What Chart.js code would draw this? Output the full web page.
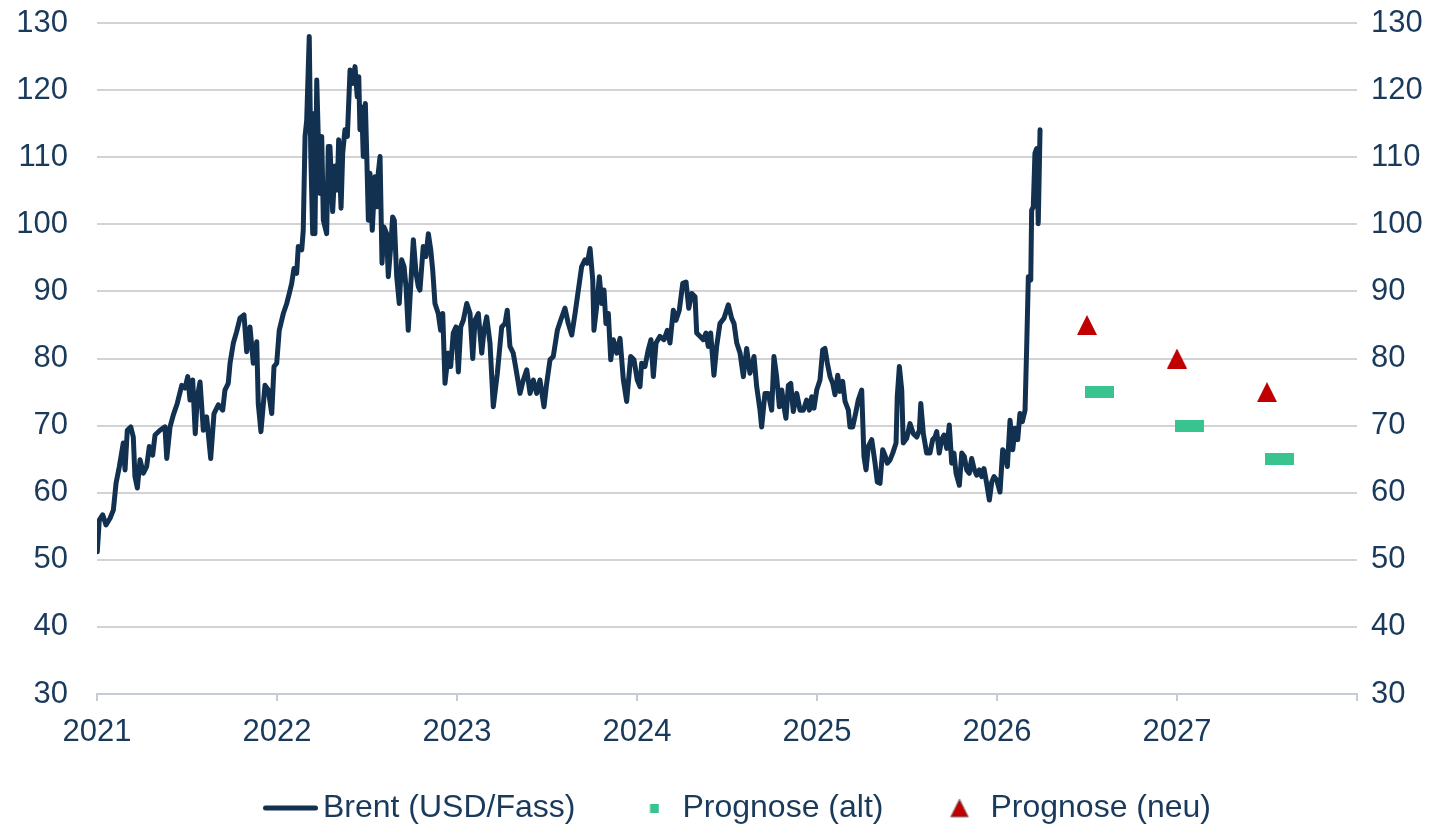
<!DOCTYPE html>
<html>
<head>
<meta charset="utf-8">
<title>Brent</title>
<script src="https://cdn.jsdelivr.net/npm/chart.js@4.4.1/dist/chart.umd.min.js"></script>
<style>
    html, body { margin: 0; padding: 0; background: #ffffff; }
    #chart-div { width: 1442px; height: 827px; }
</style>
</head>
<body>
<div id="chart-div"><canvas id="brent-chart" width="1442" height="827"></canvas></div>
<script>
// **********************************************
// Data (x = months since Jan 2021)

const brentMonths = [
    0.02, 0.15, 0.38, 0.6, 0.87, 1.09, 1.27, 1.49, 1.75, 1.87, 2.02, 2.25, 2.42, 2.53, 2.69, 2.87,
    3.09, 3.31, 3.49, 3.71, 3.87, 4.2, 4.53, 4.65, 4.87, 5.09, 5.35, 5.65, 5.87, 6.05, 6.2, 6.38,
    6.55, 6.69, 6.87, 7.09, 7.31, 7.58, 7.8, 8.09, 8.38, 8.53, 8.75, 8.87, 9.09, 9.31, 9.53, 9.8,
    9.98, 10.2, 10.42, 10.65, 10.75, 10.93, 11.2, 11.42, 11.65, 11.8, 11.98, 12.15, 12.42, 12.65,
    12.82, 12.98, 13.13, 13.31, 13.42, 13.65, 13.75, 13.87, 13.98, 14.15, 14.25, 14.38, 14.47, 14.53,
    14.65, 14.75, 14.87, 14.98, 15.09, 15.31, 15.42, 15.53, 15.71, 15.87, 16.02, 16.11, 16.27, 16.38,
    16.53, 16.69, 16.87, 17.05, 17.2, 17.35, 17.45, 17.53, 17.65, 17.75, 17.89, 17.98, 18.09, 18.2,
    18.35, 18.53, 18.65, 18.75, 18.87, 19.0, 19.13, 19.31, 19.42, 19.58, 19.71, 19.82, 19.98, 20.15,
    20.31, 20.47, 20.6, 20.75, 20.91, 21.09, 21.27, 21.42, 21.53, 21.75, 21.93, 22.09, 22.25, 22.38,
    22.53, 22.75, 22.91, 23.05, 23.2, 23.42, 23.58, 23.75, 23.93, 24.09, 24.25, 24.42, 24.65, 24.87,
    25.05, 25.2, 25.42, 25.65, 25.8, 25.98, 26.2, 26.42, 26.69, 26.98, 27.2, 27.35, 27.53, 27.75,
    27.98, 28.2, 28.42, 28.65, 28.87, 29.09, 29.31, 29.53, 29.8, 29.98, 30.2, 30.42, 30.69, 30.91,
    31.2, 31.42, 31.65, 31.87, 32.09, 32.31, 32.53, 32.69, 32.87, 33.05, 33.13, 33.31, 33.49, 33.65,
    33.8, 33.93, 34.09, 34.25, 34.42, 34.65, 34.87, 35.09, 35.31, 35.58, 35.8, 36.02, 36.2, 36.31,
    36.53, 36.75, 36.93, 37.09, 37.27, 37.53, 37.8, 38.02, 38.2, 38.42, 38.6, 38.82, 39.05, 39.27,
    39.45, 39.65, 39.87, 39.98, 40.2, 40.42, 40.6, 40.75, 40.91, 41.13, 41.31, 41.53, 41.8, 42.09,
    42.31, 42.47, 42.65, 42.87, 43.09, 43.31, 43.53, 43.8, 43.98, 44.2, 44.31, 44.53, 44.75, 44.98,
    45.13, 45.31, 45.49, 45.65, 45.8, 45.93, 46.09, 46.25, 46.42, 46.65, 46.87, 47.09, 47.31, 47.49,
    47.65, 47.8, 47.98, 48.2, 48.38, 48.53, 48.69, 48.87, 49.05, 49.2, 49.38, 49.53, 49.71, 49.87,
    50.09, 50.2, 50.38, 50.6, 50.75, 50.98, 51.13, 51.27, 51.42, 51.65, 51.87, 52.02, 52.2, 52.38,
    52.53, 52.69, 52.87, 53.05, 53.27, 53.35, 53.49, 53.65, 53.75, 53.98, 54.2, 54.42, 54.65, 54.82,
    54.92, 55.09, 55.31, 55.53, 55.71, 55.87, 55.98, 56.15, 56.31, 56.47, 56.65, 56.82, 56.98, 57.13,
    57.27, 57.49, 57.65, 57.82, 57.98, 58.15, 58.31, 58.49, 58.65, 58.82, 58.98, 59.13, 59.31, 59.49,
    59.65, 59.8, 59.98, 60.2, 60.38, 60.53, 60.69, 60.87, 61.05, 61.2, 61.38, 61.53, 61.69, 61.87,
    61.98, 62.09, 62.25, 62.31, 62.42, 62.53, 62.65, 62.75, 62.87
];

const brentValues = [
    51.2, 55.9, 56.7, 55.2, 56.2, 57.4, 61.4, 63.9, 67.4, 63.4, 69.3, 69.8, 68.3, 62.4, 60.7, 64.9,
    62.9, 63.9, 66.9, 65.6, 68.6, 69.3, 69.8, 65.1, 69.8, 71.6, 73.3, 76.0, 75.6, 77.3, 73.8, 76.8,
    68.8, 74.3, 76.5, 69.3, 71.3, 65.1, 71.8, 73.1, 72.3, 75.3, 76.3, 79.3, 82.3, 84.0, 86.0, 86.5,
    81.0, 84.7, 79.3, 82.5, 73.3, 69.1, 76.0, 75.3, 71.8, 78.8, 79.3, 84.2, 86.7, 88.2,
    89.7, 91.2, 93.4, 92.7, 96.7, 96.2, 99.1, 113.1, 115.5, 128.0, 110.6, 98.6, 116.5, 98.6,
    121.5, 113.1, 104.6, 113.1, 100.6, 98.6, 111.6, 111.6, 101.9, 108.7, 105.1, 112.6, 102.4, 110.6,
    114.1, 113.1, 123.0, 121.0, 123.5, 119.0, 122.0, 114.1, 117.5, 110.1, 118.0, 110.6, 100.6, 107.6,
    99.1, 107.1, 102.6, 107.6, 110.1, 94.2, 99.6, 98.6, 92.2, 96.7, 101.1, 100.6, 92.2, 88.2,
    94.7, 93.7, 90.7, 84.2, 90.7, 97.7, 92.7, 90.7, 90.2, 96.7, 95.2, 98.6, 96.2, 93.2,
    88.2, 86.7, 84.2, 86.7, 76.3, 80.8, 78.8, 83.8, 84.7, 78.0, 84.7, 85.7, 88.2, 86.7,
    80.0, 85.7, 86.7, 80.8, 84.2, 86.2, 82.3, 72.8, 77.8, 84.7, 85.2, 87.2, 81.8, 80.8,
    77.8, 74.8, 76.8, 78.3, 74.8, 76.8, 74.8, 76.8, 72.8, 76.3, 79.8, 80.3, 84.2, 85.7,
    87.5, 85.2, 83.5, 86.7, 90.2, 93.7, 94.7, 94.2, 96.4, 91.7, 84.2, 87.7, 92.2, 88.2,
    90.2, 85.2, 86.7, 79.8, 82.8, 80.8, 83.0, 76.8, 73.6, 80.3, 79.8, 76.8, 75.8, 79.3,
    78.8, 81.3, 82.8, 77.3, 82.3, 83.3, 82.8, 84.2, 82.3, 87.2, 85.7, 87.2, 91.2, 91.4,
    87.5, 89.7, 89.2, 83.8, 83.3, 82.8, 83.8, 81.8, 83.8, 77.5, 81.8, 85.2, 86.0, 88.0,
    86.0, 85.2, 82.3, 80.8, 77.3, 81.5, 77.8, 80.3, 75.8, 72.3, 69.8, 74.8, 74.8, 72.3,
    80.3, 77.3, 72.8, 75.3, 72.8, 71.1, 76.0, 76.3, 72.1, 74.8, 72.3, 72.3, 73.8, 72.3,
    74.3, 72.6, 75.3, 76.8, 81.3, 81.5, 79.3, 77.3, 76.3, 74.6, 77.5, 75.1, 76.6, 73.6,
    72.3, 69.8, 69.8, 72.1, 73.8, 75.3, 65.4, 63.4, 66.9, 67.9, 64.4, 61.6, 61.4, 66.4,
    65.6, 64.4, 64.9, 65.9, 67.4, 74.3, 78.8, 75.3, 67.4, 68.1, 70.3, 68.8, 68.3, 69.3,
    73.3, 68.8, 65.9, 65.9, 67.9, 68.3, 69.1, 65.9, 67.9, 68.6, 66.6, 70.1, 64.4, 65.9,
    62.9, 61.1, 65.9, 65.4, 63.4, 62.9, 65.1, 63.4, 62.6, 63.4, 62.4, 63.6, 61.4, 58.9,
    61.6, 62.4, 61.9, 60.1, 66.4, 65.9, 63.9, 70.8, 66.4, 69.6, 67.9, 71.8, 70.6, 72.3,
    81.8, 92.2, 91.7, 102.1, 102.6, 110.6, 111.3, 100.1, 114.1
];

// forecasts
const forecastOldMonths = [66.85, 72.85, 78.85];
const forecastOldValues = [75, 70, 65];
const forecastNewMonths = [66, 72, 78];
const forecastNewValues = [85, 80, 75];

// labels
const yearLabels = ['2021', '2022', '2023', '2024', '2025', '2026', '2027', ''];
const seriesLabels = ['Brent (USD/Fass)', 'Prognose (alt)', 'Prognose (neu)'];


// **********************************************
// Colours and fonts

const navy = '#12304f';
const textColor = '#1a3a5c';
const green = '#38c38f';
const red = '#c00000';
const gridGrey = '#d3d3d3';
const axisGrey = '#c6ccd4';
const fontFamily = "'Liberation Sans', Arial, sans-serif";


// **********************************************
// Marker images (plot + legend)

function makeMarker(w, h, draw) {
    let c = document.createElement('canvas');
    c.width = w;
    c.height = h;
    draw(c.getContext('2d'));
    return c;
}

// plot markers
let oldBar = makeMarker(29, 12, function(ctx) {
    ctx.fillStyle = green;
    ctx.fillRect(0, 0, 29, 12);
});
let newTriangle = makeMarker(20, 20, function(ctx) {
    ctx.fillStyle = red;
    ctx.beginPath();
    ctx.moveTo(10, 0);
    ctx.lineTo(20, 20);
    ctx.lineTo(0, 20);
    ctx.closePath();
    ctx.fill();
});

// legend markers: legend boxes are 76px wide, images are centred on the box,
// so each marker is drawn off-centre inside its image to sit next to its text
let legendLine = makeMarker(98, 8, function(ctx) {
    ctx.strokeStyle = navy;
    ctx.lineWidth = 5;
    ctx.lineCap = 'round';
    ctx.beginPath();
    ctx.moveTo(45.5, 4);
    ctx.lineTo(95.5, 4);
    ctx.stroke();
});
let legendSquare = makeMarker(62, 9, function(ctx) {
    ctx.fillStyle = green;
    ctx.fillRect(52.5, 0, 9, 9);
});
let legendTriangle = makeMarker(66, 20, function(ctx) {
    ctx.fillStyle = red;
    ctx.strokeStyle = '#8a8a8a';
    ctx.lineWidth = 1;
    ctx.beginPath();
    ctx.moveTo(56, 1);
    ctx.lineTo(65, 19);
    ctx.lineTo(47, 19);
    ctx.closePath();
    ctx.fill();
    ctx.stroke();
});
let legendMarkers = [legendLine, legendSquare, legendTriangle];


// **********************************************
// Datasets

function toPoints(xs, ys) {
    return xs.map((x, i) => ({ x: x, y: ys[i] }));
}

let datasets = [
    {
        label: seriesLabels[0],
        data: toPoints(brentMonths, brentValues),
        borderColor: navy,
        borderWidth: 5,
        borderJoinStyle: 'round',
        borderCapStyle: 'round',
        pointRadius: 0,
        tension: 0
    },
    {
        label: seriesLabels[1],
        data: toPoints(forecastOldMonths, forecastOldValues),
        showLine: false,
        pointStyle: oldBar,
        pointRadius: 10
    },
    {
        label: seriesLabels[2],
        data: toPoints(forecastNewMonths, forecastNewValues),
        showLine: false,
        pointStyle: newTriangle,
        pointRadius: 10
    }
];


// **********************************************
// Chart

let tickFont = { family: fontFamily, size: 31 };

// fixed axis sizes, and no extra label padding above/below the plot
function fixWidth(w) {
    return (scale) => {
        scale.width = w;
        scale.paddingTop = 0;
        scale.paddingBottom = 0;
    };
}

let ctx = document.getElementById('brent-chart').getContext('2d');
let brentChart = new Chart(ctx, {
    type: 'line',
    data: { datasets: datasets },
    options: {
        responsive: false,
        animation: false,
        layout: {
            padding: { left: 0, right: 0, top: 23, bottom: 0 }
        },
        scales: {
            x: {
                type: 'linear',
                min: 0,
                max: 84,
                grid: {
                    display: true,
                    drawOnChartArea: false,
                    drawTicks: true,
                    tickLength: 7,
                    color: axisGrey,
                    lineWidth: 2
                },
                border: { display: true, color: axisGrey, width: 2 },
                ticks: {
                    stepSize: 12,
                    autoSkip: false,
                    maxRotation: 0,
                    padding: 13,
                    color: textColor,
                    font: tickFont,
                    callback: (v) => yearLabels[Math.round(v / 12)]
                },
                afterFit: (scale) => { scale.height = 83; }
            },
            y: {
                position: 'left',
                min: 30,
                max: 130,
                grid: { color: gridGrey, lineWidth: 2, drawTicks: false },
                border: { display: false },
                ticks: { stepSize: 10, padding: 29, color: textColor, font: tickFont },
                afterFit: fixWidth(97)
            },
            y2: {
                position: 'right',
                min: 30,
                max: 130,
                grid: { display: false, drawTicks: false },
                border: { display: false },
                ticks: { stepSize: 10, padding: 14, color: textColor, font: tickFont },
                afterFit: fixWidth(85)
            }
        },
        plugins: {
            tooltip: { enabled: false },
            title: { display: false },
            legend: {
                position: 'bottom',
                maxHeight: 50,
                labels: {
                    usePointStyle: true,
                    pointStyleWidth: 76,
                    padding: 15,
                    color: textColor,
                    font: { family: fontFamily, size: 32 },
                    generateLabels: (chart) => chart.data.datasets.map((ds, i) => ({
                        text: ds.label,
                        pointStyle: legendMarkers[i],
                        datasetIndex: i,
                        hidden: false,
                        lineWidth: 0,
                        fontColor: textColor
                    }))
                }
            }
        }
    }
});
</script>
</body>
</html>
